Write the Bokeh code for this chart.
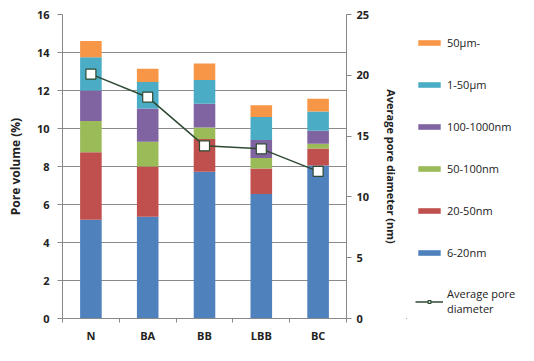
from bokeh.plotting import figure
from bokeh.layouts import row
from bokeh.models import (ColumnDataSource, Range1d, LinearAxis, FixedTicker,
                          Legend, LegendItem)
from bokeh.embed import file_html
from bokeh.resources import INLINE

categories = ["N", "BA", "BB", "LBB", "BC"]
series = ["6-20nm", "20-50nm", "50-100nm", "100-1000nm", "1-50\u00b5m", "50\u00b5m-"]
colors = ["#4F81BD", "#C0504D", "#9BBB59", "#8064A2", "#4BACC6", "#F79646"]

# segment heights
v_6_20 = [5.2, 5.35, 7.73, 6.55, 8.05]
v_20_50 = [3.55, 2.65, 1.72, 1.35, 0.9]
v_50_100 = [1.65, 1.3, 0.6, 0.55, 0.25]
v_100_1000 = [1.6, 1.75, 1.25, 0.95, 0.68]
v_1_50um = [1.75, 1.4, 1.25, 1.2, 1.02]
v_50um = [0.85, 0.7, 0.87, 0.63, 0.67]
avg_diameter = [20.1, 18.2, 14.2, 13.95, 12.1]
line_label = "Average pore\ndiameter"

y_ticks = [0, 2, 4, 6, 8, 10, 12, 14, 16]
y2_ticks = [0, 5, 10, 15, 20, 25]

xs = [i + 0.5 for i in range(len(categories))]
data = {"x": xs, "avg": avg_diameter}
vals = [v_6_20, v_20_50, v_50_100, v_100_1000, v_1_50um, v_50um]
for name, v in zip(series, vals):
    data[name] = v
src = ColumnDataSource(data)

FONT = "Open Sans"
LINE_C = "#2E4A33"

p = figure(width=406, height=345, output_backend="svg", toolbar_location=None,
           x_range=Range1d(0, len(categories)), y_range=Range1d(0, 16),
           min_border_left=62, min_border_right=60, min_border_top=14,
           min_border_bottom=20)
p.extra_y_ranges = {"d": Range1d(0, 25)}
p.outline_line_color = None

p.vbar_stack(series, x="x", width=0.38, source=src, color=colors, line_color=None)
p.line("x", "avg", source=src, y_range_name="d", line_color=LINE_C, line_width=1.5)
p.scatter("x", "avg", source=src, y_range_name="d", marker="square",
          size=10, fill_color="white", line_color=LINE_C, line_width=1.2)

p.xaxis.ticker = FixedTicker(ticks=xs, minor_ticks=list(range(len(categories) + 1)))
p.xaxis.major_label_overrides = {x: c for x, c in zip(xs, categories)}
p.xaxis.major_tick_line_color = None
p.xaxis.minor_tick_out = 4
p.xaxis.minor_tick_in = 0
p.xaxis.minor_tick_line_color = "#888888"
p.xaxis.axis_line_color = "#888888"
p.xaxis.major_label_standoff = 3

p.yaxis.ticker = FixedTicker(ticks=y_ticks)
p.yaxis.axis_label = "Pore volume (%)"
p.yaxis.minor_tick_line_color = None
p.yaxis.major_tick_out = 5
p.yaxis.major_tick_in = 0
p.yaxis.major_tick_line_color = "#888888"
p.yaxis.axis_line_color = "#888888"
p.yaxis.major_label_standoff = 8
p.yaxis.axis_label_standoff = 10

ax2 = LinearAxis(y_range_name="d", ticker=FixedTicker(ticks=y2_ticks),
                 axis_label="Average pore diameter (nm)")
ax2.minor_tick_line_color = None
ax2.major_tick_out = 5
ax2.major_tick_in = 0
ax2.major_tick_line_color = "#888888"
ax2.axis_line_color = "#888888"
ax2.major_label_standoff = 5
p.add_layout(ax2, "right")

for ax in [p.xaxis[0], p.yaxis[0], ax2]:
    ax.major_label_text_font = FONT
    ax.major_label_text_font_size = "11px"
    ax.major_label_text_font_style = "bold"
    ax.major_label_text_color = "#222222"
    ax.axis_label_text_font = FONT
    ax.axis_label_text_font_size = "12px"
    ax.axis_label_text_font_style = "bold"
    ax.axis_label_text_color = "#222222"
ax2.axis_label_text_font_size = "11px"
ax2.axis_label_standoff = 12

p.xgrid.grid_line_color = None
p.ygrid.ticker = FixedTicker(ticks=y_ticks)
p.ygrid.grid_line_color = "#8a8a8a"
p.ygrid.grid_line_width = 1

# legend panel: a second figure whose data lie outside its ranges
lg = figure(width=112, height=345, output_backend="svg", toolbar_location=None,
            x_axis_type=None, y_axis_type=None, min_border_left=0,
            min_border_right=0, min_border_top=0, min_border_bottom=0,
            x_range=Range1d(100, 101), y_range=Range1d(100, 101))
lg.outline_line_color = None
lg.xgrid.grid_line_color = None
lg.ygrid.grid_line_color = None
lbars = lg.vbar_stack(series, x="x", width=0.38, source=src, color=colors, line_color=None)
items = [LegendItem(label=series[i], renderers=[lbars[i]]) for i in reversed(range(len(series)))]
rl = lg.line("x", "avg", source=src, line_color=LINE_C, line_width=1.5)
rs = lg.scatter("x", "avg", source=src, marker="square", size=10,
                fill_color="white", line_color=LINE_C, line_width=1.2)
items.append(LegendItem(label=line_label, renderers=[rl, rs]))

legend = Legend(items=items, location=(9, 2))
legend.label_text_font = FONT
legend.label_text_font_size = "11px"
legend.label_text_color = "#222222"
legend.glyph_width = 28
legend.glyph_height = 7
legend.label_height = 16
legend.spacing = 26
legend.border_line_color = None
legend.background_fill_alpha = 0
legend.padding = 4
legend.margin = 0
legend.label_standoff = 4
lg.add_layout(legend, "center")

layout = row(p, lg)
open("out.html", "w").write(file_html(layout, INLINE))
